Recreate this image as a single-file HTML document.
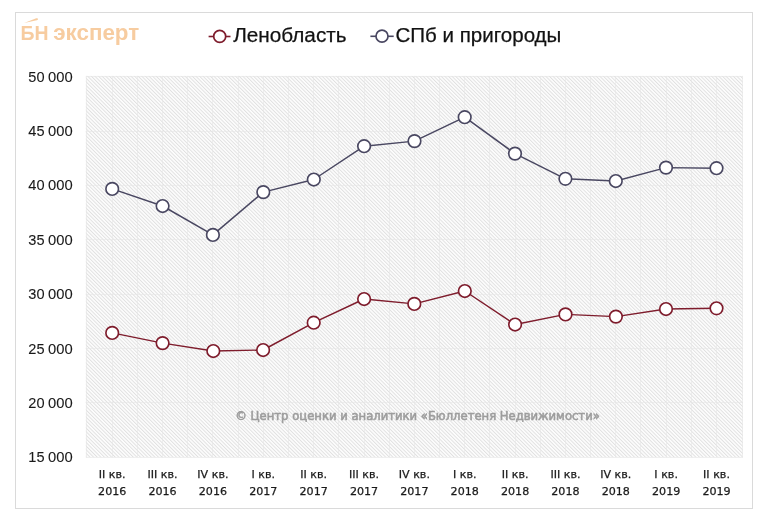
<!DOCTYPE html>
<html lang="ru"><head><meta charset="utf-8"><title>Цены на жильё</title>
<style>
html,body{margin:0;padding:0;background:#fff;width:768px;height:521px;overflow:hidden}
svg{display:block}
text{font-family:"Liberation Sans","DejaVu Sans",sans-serif}
.dj{font-family:"DejaVu Sans",sans-serif}
.th{stroke:#1a1a1a;stroke-width:0.25px}
.th2{stroke:#1a1a1a;stroke-width:0.1px}
</style></head><body>
<svg width="768" height="521" viewBox="0 0 768 521">
<defs>
<pattern id="hatch" patternUnits="userSpaceOnUse" width="2.55" height="2.55" patternTransform="rotate(-45)">
<rect width="2.55" height="2.55" fill="#fdfdfd"/>
<rect x="0" y="0" width="0.95" height="2.55" fill="#e0e0e0"/>
</pattern>
</defs>
<rect x="0" y="0" width="768" height="521" fill="#ffffff"/>
<rect x="15.5" y="12.5" width="737" height="496" fill="#ffffff" stroke="#dadada" stroke-width="1"/>

<rect x="85.8" y="75.9" width="657.10" height="381.40" fill="url(#hatch)"/>
<path d="M86.50 75.9V457.3M112.50 75.9V457.3M137.50 75.9V457.3M162.50 75.9V457.3M187.50 75.9V457.3M212.50 75.9V457.3M238.50 75.9V457.3M263.50 75.9V457.3M288.50 75.9V457.3M313.50 75.9V457.3M338.50 75.9V457.3M364.50 75.9V457.3M389.50 75.9V457.3M414.50 75.9V457.3M439.50 75.9V457.3M464.50 75.9V457.3M489.50 75.9V457.3M515.50 75.9V457.3M540.50 75.9V457.3M565.50 75.9V457.3M590.50 75.9V457.3M615.50 75.9V457.3M640.50 75.9V457.3M666.50 75.9V457.3M691.50 75.9V457.3M716.50 75.9V457.3M742.50 75.9V457.3M85.8 76.50H742.9M85.8 131.50H742.9M85.8 185.50H742.9M85.8 239.50H742.9M85.8 294.50H742.9M85.8 348.50H742.9M85.8 402.50H742.9M85.8 457.50H742.9" stroke="#e6e6e6" stroke-width="1" stroke-opacity="0.6" fill="none"/>
<text x="28.3" y="81.80" font-size="15.5" fill="#1a1a1a" class="th2" textLength="16.2" lengthAdjust="spacingAndGlyphs">50</text>
<text x="48.1" y="81.80" font-size="15.5" fill="#1a1a1a" class="th2" textLength="24.6" lengthAdjust="spacingAndGlyphs">000</text>
<text x="28.3" y="136.14" font-size="15.5" fill="#1a1a1a" class="th2" textLength="16.2" lengthAdjust="spacingAndGlyphs">45</text>
<text x="48.1" y="136.14" font-size="15.5" fill="#1a1a1a" class="th2" textLength="24.6" lengthAdjust="spacingAndGlyphs">000</text>
<text x="28.3" y="190.49" font-size="15.5" fill="#1a1a1a" class="th2" textLength="16.2" lengthAdjust="spacingAndGlyphs">40</text>
<text x="48.1" y="190.49" font-size="15.5" fill="#1a1a1a" class="th2" textLength="24.6" lengthAdjust="spacingAndGlyphs">000</text>
<text x="28.3" y="244.83" font-size="15.5" fill="#1a1a1a" class="th2" textLength="16.2" lengthAdjust="spacingAndGlyphs">35</text>
<text x="48.1" y="244.83" font-size="15.5" fill="#1a1a1a" class="th2" textLength="24.6" lengthAdjust="spacingAndGlyphs">000</text>
<text x="28.3" y="299.17" font-size="15.5" fill="#1a1a1a" class="th2" textLength="16.2" lengthAdjust="spacingAndGlyphs">30</text>
<text x="48.1" y="299.17" font-size="15.5" fill="#1a1a1a" class="th2" textLength="24.6" lengthAdjust="spacingAndGlyphs">000</text>
<text x="28.3" y="353.51" font-size="15.5" fill="#1a1a1a" class="th2" textLength="16.2" lengthAdjust="spacingAndGlyphs">25</text>
<text x="48.1" y="353.51" font-size="15.5" fill="#1a1a1a" class="th2" textLength="24.6" lengthAdjust="spacingAndGlyphs">000</text>
<text x="28.3" y="407.86" font-size="15.5" fill="#1a1a1a" class="th2" textLength="16.2" lengthAdjust="spacingAndGlyphs">20</text>
<text x="48.1" y="407.86" font-size="15.5" fill="#1a1a1a" class="th2" textLength="24.6" lengthAdjust="spacingAndGlyphs">000</text>
<text x="28.3" y="462.20" font-size="15.5" fill="#1a1a1a" class="th2" textLength="16.2" lengthAdjust="spacingAndGlyphs">15</text>
<text x="48.1" y="462.20" font-size="15.5" fill="#1a1a1a" class="th2" textLength="24.6" lengthAdjust="spacingAndGlyphs">000</text>
<text x="112.20" y="477.8" font-size="11.1" class="dj th" text-anchor="middle" fill="#1a1a1a">II кв.</text>
<text x="112.20" y="495.1" font-size="11.1" class="dj th" text-anchor="middle" fill="#1a1a1a">2016</text>
<text x="162.56" y="477.8" font-size="11.1" class="dj th" text-anchor="middle" fill="#1a1a1a">III кв.</text>
<text x="162.56" y="495.1" font-size="11.1" class="dj th" text-anchor="middle" fill="#1a1a1a">2016</text>
<text x="212.92" y="477.8" font-size="11.1" class="dj th" text-anchor="middle" fill="#1a1a1a">IV кв.</text>
<text x="212.92" y="495.1" font-size="11.1" class="dj th" text-anchor="middle" fill="#1a1a1a">2016</text>
<text x="263.28" y="477.8" font-size="11.1" class="dj th" text-anchor="middle" fill="#1a1a1a">I кв.</text>
<text x="263.28" y="495.1" font-size="11.1" class="dj th" text-anchor="middle" fill="#1a1a1a">2017</text>
<text x="313.64" y="477.8" font-size="11.1" class="dj th" text-anchor="middle" fill="#1a1a1a">II кв.</text>
<text x="313.64" y="495.1" font-size="11.1" class="dj th" text-anchor="middle" fill="#1a1a1a">2017</text>
<text x="364.00" y="477.8" font-size="11.1" class="dj th" text-anchor="middle" fill="#1a1a1a">III кв.</text>
<text x="364.00" y="495.1" font-size="11.1" class="dj th" text-anchor="middle" fill="#1a1a1a">2017</text>
<text x="414.36" y="477.8" font-size="11.1" class="dj th" text-anchor="middle" fill="#1a1a1a">IV кв.</text>
<text x="414.36" y="495.1" font-size="11.1" class="dj th" text-anchor="middle" fill="#1a1a1a">2017</text>
<text x="464.72" y="477.8" font-size="11.1" class="dj th" text-anchor="middle" fill="#1a1a1a">I кв.</text>
<text x="464.72" y="495.1" font-size="11.1" class="dj th" text-anchor="middle" fill="#1a1a1a">2018</text>
<text x="515.08" y="477.8" font-size="11.1" class="dj th" text-anchor="middle" fill="#1a1a1a">II кв.</text>
<text x="515.08" y="495.1" font-size="11.1" class="dj th" text-anchor="middle" fill="#1a1a1a">2018</text>
<text x="565.44" y="477.8" font-size="11.1" class="dj th" text-anchor="middle" fill="#1a1a1a">III кв.</text>
<text x="565.44" y="495.1" font-size="11.1" class="dj th" text-anchor="middle" fill="#1a1a1a">2018</text>
<text x="615.80" y="477.8" font-size="11.1" class="dj th" text-anchor="middle" fill="#1a1a1a">IV кв.</text>
<text x="615.80" y="495.1" font-size="11.1" class="dj th" text-anchor="middle" fill="#1a1a1a">2018</text>
<text x="666.16" y="477.8" font-size="11.1" class="dj th" text-anchor="middle" fill="#1a1a1a">I кв.</text>
<text x="666.16" y="495.1" font-size="11.1" class="dj th" text-anchor="middle" fill="#1a1a1a">2019</text>
<text x="716.52" y="477.8" font-size="11.1" class="dj th" text-anchor="middle" fill="#1a1a1a">II кв.</text>
<text x="716.52" y="495.1" font-size="11.1" class="dj th" text-anchor="middle" fill="#1a1a1a">2019</text>
<text x="235.3" y="420.2" font-size="12.2" class="dj" style="stroke:#9d9d9d;stroke-width:0.6px" fill="#9d9d9d" textLength="364.5" lengthAdjust="spacingAndGlyphs">© Центр оценки и аналитики «Бюллетеня Недвижимости»</text>
<path d="M112.2 332.9 L162.6 343.1 L213.3 351.0 L263.1 350.0 L313.7 322.7 L364.1 299.0 L414.3 303.9 L464.8 291.0 L515.1 324.5 L565.5 314.4 L615.9 316.6 L666.0 309.0 L716.5 308.3" stroke="#7e1c2c" stroke-width="1.45" fill="none" stroke-linejoin="round"/><circle cx="112.2" cy="332.9" r="6.3" fill="#fff" stroke="#7e1c2c" stroke-width="1.65"/><circle cx="162.6" cy="343.1" r="6.3" fill="#fff" stroke="#7e1c2c" stroke-width="1.65"/><circle cx="213.3" cy="351.0" r="6.3" fill="#fff" stroke="#7e1c2c" stroke-width="1.65"/><circle cx="263.1" cy="350.0" r="6.3" fill="#fff" stroke="#7e1c2c" stroke-width="1.65"/><circle cx="313.7" cy="322.7" r="6.3" fill="#fff" stroke="#7e1c2c" stroke-width="1.65"/><circle cx="364.1" cy="299.0" r="6.3" fill="#fff" stroke="#7e1c2c" stroke-width="1.65"/><circle cx="414.3" cy="303.9" r="6.3" fill="#fff" stroke="#7e1c2c" stroke-width="1.65"/><circle cx="464.8" cy="291.0" r="6.3" fill="#fff" stroke="#7e1c2c" stroke-width="1.65"/><circle cx="515.1" cy="324.5" r="6.3" fill="#fff" stroke="#7e1c2c" stroke-width="1.65"/><circle cx="565.5" cy="314.4" r="6.3" fill="#fff" stroke="#7e1c2c" stroke-width="1.65"/><circle cx="615.9" cy="316.6" r="6.3" fill="#fff" stroke="#7e1c2c" stroke-width="1.65"/><circle cx="666.0" cy="309.0" r="6.3" fill="#fff" stroke="#7e1c2c" stroke-width="1.65"/><circle cx="716.5" cy="308.3" r="6.3" fill="#fff" stroke="#7e1c2c" stroke-width="1.65"/>
<path d="M112.2 188.9 L162.6 206.0 L212.9 234.9 L263.3 192.1 L313.8 179.5 L364.1 146.2 L414.5 141.1 L464.7 117.2 L515.0 153.6 L565.4 178.8 L615.8 181.0 L666.0 167.6 L716.5 168.2" stroke="#494761" stroke-width="1.45" fill="none" stroke-linejoin="round"/><circle cx="112.2" cy="188.9" r="6.3" fill="#fff" stroke="#494761" stroke-width="1.65"/><circle cx="162.6" cy="206.0" r="6.3" fill="#fff" stroke="#494761" stroke-width="1.65"/><circle cx="212.9" cy="234.9" r="6.3" fill="#fff" stroke="#494761" stroke-width="1.65"/><circle cx="263.3" cy="192.1" r="6.3" fill="#fff" stroke="#494761" stroke-width="1.65"/><circle cx="313.8" cy="179.5" r="6.3" fill="#fff" stroke="#494761" stroke-width="1.65"/><circle cx="364.1" cy="146.2" r="6.3" fill="#fff" stroke="#494761" stroke-width="1.65"/><circle cx="414.5" cy="141.1" r="6.3" fill="#fff" stroke="#494761" stroke-width="1.65"/><circle cx="464.7" cy="117.2" r="6.3" fill="#fff" stroke="#494761" stroke-width="1.65"/><circle cx="515.0" cy="153.6" r="6.3" fill="#fff" stroke="#494761" stroke-width="1.65"/><circle cx="565.4" cy="178.8" r="6.3" fill="#fff" stroke="#494761" stroke-width="1.65"/><circle cx="615.8" cy="181.0" r="6.3" fill="#fff" stroke="#494761" stroke-width="1.65"/><circle cx="666.0" cy="167.6" r="6.3" fill="#fff" stroke="#494761" stroke-width="1.65"/><circle cx="716.5" cy="168.2" r="6.3" fill="#fff" stroke="#494761" stroke-width="1.65"/>
<path d="M208.6 36.5H230.5" stroke="#7e1c2c" stroke-width="1.6"/><circle cx="219.7" cy="36.4" r="6.0" fill="#fff" stroke="#7e1c2c" stroke-width="1.7"/>
<text x="233.2" y="42.1" font-size="20" fill="#111" class="th" textLength="113.4" lengthAdjust="spacingAndGlyphs">Ленобласть</text>
<path d="M370.4 36.3H393.7" stroke="#494761" stroke-width="1.6"/><circle cx="382.0" cy="36.2" r="6.0" fill="#fff" stroke="#494761" stroke-width="1.7"/>
<text x="395.4" y="42.2" font-size="20" fill="#111" class="th" textLength="166" lengthAdjust="spacingAndGlyphs">СПб и пригороды</text>
<text x="20.5" y="40.2" font-size="20.3" font-weight="bold" fill="#f7cca0" textLength="28" lengthAdjust="spacingAndGlyphs">БН</text>
<text x="53.2" y="40.3" font-size="22.5" font-weight="bold" fill="#f7cca0" textLength="86" lengthAdjust="spacingAndGlyphs">эксперт</text>
<path d="M24.2 22.9 L36.2 18.3 Q38.4 18 38 19.6 Q37.2 20.6 35.6 20.6 Z" fill="#f7cca0"/>
</svg>
</body></html>
